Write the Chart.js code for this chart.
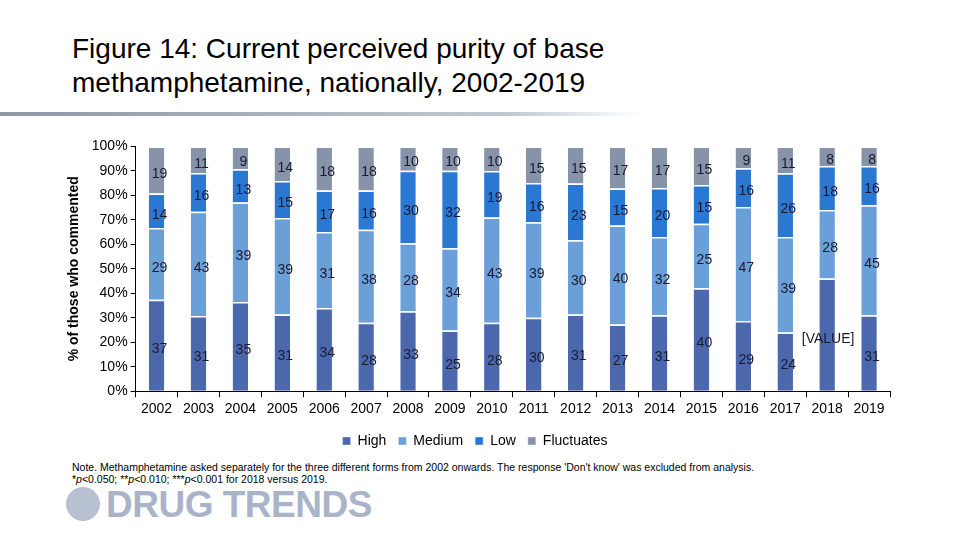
<!DOCTYPE html>
<html><head><meta charset="utf-8">
<script src="https://cdn.jsdelivr.net/npm/chart.js@4"></script>
<style>
body{margin:0;width:960px;height:540px;background:#fff;position:relative;font-family:"Liberation Sans",Arial,sans-serif;overflow:hidden}
#title{position:absolute;left:72px;top:32px;font-size:28px;line-height:34px;color:#000}
#rule{position:absolute;left:0;top:112px;width:640px;height:4px;background:linear-gradient(90deg,#8d97a8,#c3c9d3 80%,#fff)}
#wrap{position:absolute;left:60px;top:135px;width:850px;height:323px}
#note{position:absolute;left:72px;top:461px;font-size:10.5px;line-height:12px;color:#000}
#logo{position:absolute;left:66px;top:484px;font-size:37px;font-weight:bold;color:#a9b4c8;letter-spacing:-0.5px;font-family:"Liberation Sans",Arial,sans-serif}
#logo span{display:inline-block;width:34px;height:34px;border-radius:50%;background:#b8c1d2;vertical-align:-4px;margin-right:6px}
</style></head><body>
<div id="title">Figure 14: Current perceived purity of base<br>methamphetamine, nationally, 2002-2019</div>
<div id="rule"></div>
<div id="wrap"><canvas id="c" width="850" height="323"></canvas></div>
<div id="note">Note. Methamphetamine asked separately for the three different forms from 2002 onwards. The response 'Don't know' was excluded from analysis.<br>*<i>p</i>&lt;0.050; **<i>p</i>&lt;0.010; ***<i>p</i>&lt;0.001 for 2018 versus 2019.</div>
<div id="logo"><span></span>DRUG TRENDS</div>
<script>
const years=['2002','2003','2004','2005','2006','2007','2008','2009','2010','2011','2012','2013','2014','2015','2016','2017','2018','2019'];
const high=[37,31,35,31,34,28,33,25,28,30,31,27,31,40,29,24,46,31];
const medium=[29,43,39,39,31,38,28,34,43,39,30,40,32,25,47,39,28,45];
const low=[14,16,13,15,17,16,30,32,19,16,23,15,20,15,16,26,18,16];
const fluct=[19,11,9,14,18,18,10,10,10,15,15,17,17,15,9,11,8,8];
const highLabels=high.map((v,i)=>i===16?'[VALUE]':String(v));
const raw=[high,medium,low,fluct];
const totals=years.map((y,i)=>raw.reduce((s,a)=>s+a[i],0));
const share=a=>a.map((v,i)=>v*100/totals[i]);
const labelPlugin={id:'lbl',afterDatasetsDraw(ch){const c=ch.ctx;c.save();c.font='14px "Liberation Sans", Arial';c.fillStyle='#1a1a2e';c.textAlign='center';c.textBaseline='middle';
ch.data.datasets.forEach((ds,di)=>{ch.getDatasetMeta(di).data.forEach((el,i)=>{const t=di===0?highLabels[i]:String(raw[di][i]);const x=el.x+(di===0&&i===16?1:3);c.fillText(t,x,(el.y+el.base)/2+4);});});c.restore();}};
new Chart(document.getElementById('c'),{type:'bar',
data:{labels:years,datasets:[
{label:'High',data:share(high),backgroundColor:'#4b68ad'},
{label:'Medium',data:share(medium),backgroundColor:'#6a9fd8'},
{label:'Low',data:share(low),backgroundColor:'#2b78d3'},
{label:'Fluctuates',data:share(fluct),backgroundColor:'#8793a8'}]},
options:{responsive:false,animation:false,devicePixelRatio:1,
layout:{padding:{right:20,left:0,top:0}},
datasets:{bar:{barPercentage:0.37,categoryPercentage:1,borderColor:'#fff',borderWidth:{top:1.5,bottom:0,left:0,right:0},borderSkipped:false}},
plugins:{legend:{position:'bottom',labels:{boxWidth:8,boxHeight:8,padding:12,font:{size:14,family:'Liberation Sans'},color:'#000'}},tooltip:{enabled:false}},
scales:{x:{stacked:true,grid:{display:true,drawOnChartArea:false,offset:true,color:'#000',tickLength:6},border:{color:'#000'},ticks:{color:'#000',font:{size:14,family:'Liberation Sans'},maxRotation:0,autoSkip:false,padding:4}},
y:{stacked:true,min:0,max:100,grid:{drawOnChartArea:false,color:'#000',tickLength:5},border:{color:'#000'},
ticks:{stepSize:10,color:'#000',font:{size:14,family:'Liberation Sans'},callback:v=>v+'%'},
title:{display:true,text:'% of those who commented',font:{size:14,weight:'bold',family:'Liberation Sans'},color:'#000',padding:6}}}},
plugins:[labelPlugin]});
</script></body></html>
